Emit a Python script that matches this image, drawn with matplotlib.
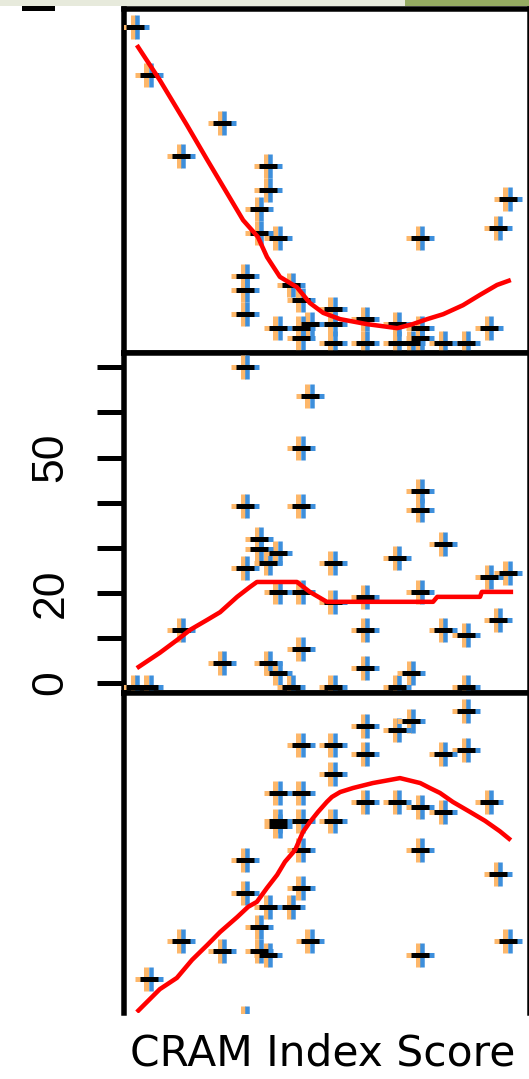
import matplotlib
matplotlib.use('Agg')
import matplotlib.pyplot as plt
from matplotlib.transforms import offset_copy
from matplotlib.patches import Rectangle

# ---------------- data (CRAM index score on x) ----------------
top_x = [0, 3, 19, 10, 29, 29, 27, 81, 79, 27, 31, 62, 24, 24, 24, 34, 36, 43,
         50, 57, 43, 38, 31, 36, 62, 77, 62, 43, 50, 57, 60, 67, 72, 36]
top_y = [70.2, 59.6, 48.9, 41.6, 39.3, 34.0, 29.8, 32.0, 25.6, 24.4, 23.3, 23.3,
         14.9, 11.8, 6.4, 12.9, 9.6, 7.6, 5.3, 4.2, 4.2, 4.2, 3.3, 3.3, 3.3, 3.3,
         1.1, 0.0, 0.0, 0.0, 0.0, 0.0, 0.0, 1.1]
top_fit_x = [0.4, 5.4, 11.3, 15.7, 19.6, 23.5, 26.7, 28.7, 31.5, 35.2, 38.0, 40.9,
             44.6, 50.4, 57.0, 60.4, 63.5, 67.0, 71.3, 75.0, 78.7, 81.7]
top_fit_y = [66.2, 58.4, 48.4, 40.7, 34.0, 27.3, 23.6, 19.1, 14.7, 12.4, 8.9, 6.7,
             5.3, 4.2, 3.3, 4.2, 5.3, 6.4, 8.4, 10.7, 12.9, 14.0]

mid_x = [24, 38, 36, 62, 62, 24, 36, 27, 67, 27, 31, 29, 43, 57, 24, 77, 81, 31,
         36, 50, 62, 43, 10, 50, 67, 72, 79, 36, 19, 29, 31, 50, 60,
         0, 3, 34, 43, 57, 72]
mid_y = [70.1, 63.6, 52.1, 42.6, 38.4, 39.2, 39.2, 31.9, 30.8, 29.7, 28.8, 26.6,
         26.6, 27.7, 25.5, 23.5, 24.4, 20.2, 20.2, 19.1, 20.2, 18.0, 11.8, 11.8,
         11.8, 10.6, 14.0, 7.5, 4.4, 4.4, 2.2, 3.3, 2.2,
         -0.8, -0.8, -0.8, -0.8, -0.8, -0.8]
mid_fit_x = [0.4, 5.4, 9.1, 12.0, 15.7, 18.5, 22.2, 25.0, 26.5, 35.2, 38.0, 41.7,
             64.8, 65.7, 75.0, 75.4, 82.2]
mid_fit_y = [3.3, 6.7, 9.5, 11.8, 14.0, 15.7, 19.1, 21.3, 22.4, 22.4, 20.2, 18.0,
             18.0, 19.1, 19.1, 20.2, 20.2]
mid_ticks = [0, 10, 20, 30, 40, 50, 60, 70]
mid_tick_labels = ['0', '', '20', '', '', '50', '', '']

bot_x = [72, 60, 50, 57, 36, 43, 50, 67, 72, 43, 31, 36, 50, 57, 62, 67, 77, 31,
         36, 31, 43, 36, 62, 24, 79, 36, 24, 29, 34, 27, 10, 38, 81, 19, 27, 29,
         62, 3, 24]
bot_y = [67.1, 64.9, 63.8, 62.9, 59.6, 59.6, 57.6, 57.6, 58.4, 53.1, 48.9, 48.9,
         46.9, 46.9, 45.8, 44.7, 46.9, 42.7, 42.7, 41.6, 42.7, 36.2, 36.2, 34.0,
         30.9, 27.8, 26.7, 23.6, 23.6, 19.1, 16.0, 16.0, 16.0, 13.8, 13.8, 12.9,
         12.9, 7.6, -1.1]
bot_fit_x = [0.4, 5.4, 9.1, 12.4, 15.7, 18.5, 22.2, 24.6, 26.5, 28.7, 30.9, 32.6,
             34.8, 36.5, 38.0, 39.8, 41.7, 42.8, 44.6, 47.4, 51.7, 57.6, 62.0,
             64.1, 66.3, 69.1, 72.8, 76.1, 79.3, 81.7]
bot_fit_y = [0.2, 5.3, 7.8, 11.8, 15.1, 18.0, 21.3, 23.6, 24.7, 27.8, 30.7, 33.6,
             36.2, 40.2, 42.4, 44.7, 46.9, 48.0, 49.1, 50.0, 51.1, 52.2, 51.1,
             50.0, 48.9, 46.9, 44.7, 42.7, 40.4, 38.4]

x_label = 'CRAM Index Score'

# ---------------- figure ----------------
W, H, DPI = 529, 1079, 100
fig = plt.figure(figsize=(W / DPI, H / DPI), dpi=DPI)
fig.patch.set_facecolor('white')


def pt(p):
    return p * 72.0 / DPI


ORANGE = '#fdb76a'
BLUE = '#3d8fdc'
LEFT_PX, RIGHT_PX = 123.5, 529.5
XLIM = ((LEFT_PX - 135) / 4.6, (RIGHT_PX - 135) / 4.6)


def make_axes(top_px, bottom_px, ylim):
    ax = fig.add_axes([LEFT_PX / W, 1 - bottom_px / H,
                       (RIGHT_PX - LEFT_PX) / W, (bottom_px - top_px) / H])
    ax.set_xlim(*XLIM)
    ax.set_ylim(*ylim)
    ax.set_xticks([])
    ax.set_yticks([])
    for s in ax.spines.values():
        s.set_linewidth(pt(5.5))
        s.set_color('black')
    ax.set_facecolor('white')
    return ax


def plus_markers(ax, x, y):
    specs = [
        ('|', ORANGE, 24, 5.0, -2.5),
        ('|', BLUE, 24, 4.5, 2.0),
        ('_', ORANGE, 14, 5.0, -7),
        ('_', BLUE, 14, 5.0, 7),
        ('_', 'black', 18, 5.0, 0),
    ]
    for m, c, s, w, dx in specs:
        tr = offset_copy(ax.transData, fig=fig, x=dx, y=0, units='dots')
        ax.plot(x, y, linestyle='none', marker=m, color=c,
                markersize=pt(s), markeredgewidth=pt(w), transform=tr, zorder=3)


def fit_line(ax, x, y):
    ax.plot(x, y, color='#ff0000', lw=pt(4.5), zorder=4, solid_capstyle='butt')


ax_top = make_axes(8.5, 352.5, ((343 - 352.5) / 4.5, (343 - 8.5) / 4.5))
plus_markers(ax_top, top_x, top_y)
fit_line(ax_top, top_fit_x, top_fit_y)

ax_mid = make_axes(352.5, 692.5, ((683 - 692.5) / 4.51, (683 - 352.5) / 4.51))
plus_markers(ax_mid, mid_x, mid_y)
fit_line(ax_mid, mid_fit_x, mid_fit_y)
ax_mid.set_yticks(mid_ticks)
ax_mid.set_yticklabels(mid_tick_labels, rotation=90, va='center',
                       fontsize=32, family='Liberation Sans')
ax_mid.tick_params(axis='y', direction='out', length=pt(27), width=pt(5),
                   pad=18, color='black')

ax_bot = make_axes(692.5, 1013, (0, (1013 - 692.5) / 4.5))
ax_bot.spines['bottom'].set_visible(False)
plus_markers(ax_bot, bot_x, bot_y)
fit_line(ax_bot, bot_fit_x, bot_fit_y)

fig.text(323 / W, 1 - 1066 / H, x_label, ha='center', va='baseline',
         fontsize=30.5, family='DejaVu Sans', color='black')

# thin photo strip at the very top of the crop
fig.add_artist(Rectangle((0, 1 - 6 / H), 405 / W, 6 / H, transform=fig.transFigure,
                         facecolor='#e7eadc', edgecolor='none'))
fig.add_artist(Rectangle((405 / W, 1 - 6 / H), 1 - 405 / W, 6 / H,
                         transform=fig.transFigure, facecolor='#95ab62',
                         edgecolor='none'))
fig.add_artist(Rectangle((22 / W, 1 - 11 / H), 33 / W, 5 / H, transform=fig.transFigure,
                         facecolor='black', edgecolor='none'))

fig.savefig('out.png', dpi=DPI, facecolor='white')
